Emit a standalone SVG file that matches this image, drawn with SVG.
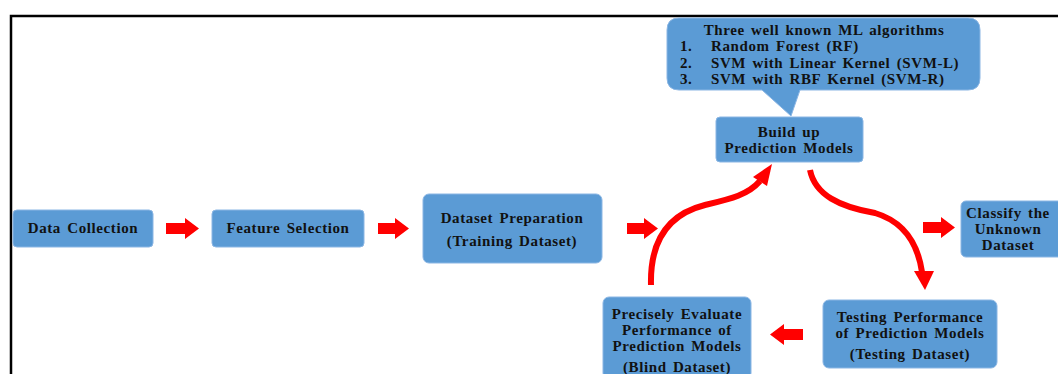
<svg xmlns="http://www.w3.org/2000/svg" width="1058" height="374" viewBox="0 0 1058 374">
<style>
.box{fill:#5b9bd5;stroke:#8bb6e4;stroke-width:1}
.t{font-family:"Liberation Serif","Times New Roman",serif;font-weight:bold;font-size:15px;fill:#111;text-anchor:middle;word-spacing:2px;letter-spacing:0.6px}
.tl{font-family:"Liberation Serif","Times New Roman",serif;font-weight:bold;font-size:15px;fill:#111;word-spacing:2px;letter-spacing:0.6px}
.blk{fill:#ff0000}
.crv{fill:none;stroke:#ff0000;stroke-width:6}
</style>
<rect width="1058" height="374" fill="#fff"/>
<path d="M11,374 V16 H1058" fill="none" stroke="#000" stroke-width="2.5"/>

<g id="callout">
<path d="M679,18 H968 Q980,18 980,30 V78 Q980,90 968,90 H800 L791,116 L762,90 H679 Q667,90 667,78 V30 Q667,18 679,18 Z" class="box"/>
<text class="t" x="824" y="35">Three well known ML algorithms</text>
<text class="tl" x="680" y="51">1.</text><text class="tl" x="711" y="51">Random Forest (RF)</text>
<text class="tl" x="680" y="68">2.</text><text class="tl" x="711" y="68">SVM with Linear Kernel (SVM-L)</text>
<text class="tl" x="680" y="84">3.</text><text class="tl" x="711" y="84">SVM with RBF Kernel (SVM-R)</text>
</g>

<g id="data-collection">
<rect class="box" x="13" y="210" width="140" height="37" rx="4"/>
<text class="t" x="83" y="233">Data Collection</text>
</g>
<g id="feature-selection">
<rect class="box" x="212" y="210" width="152" height="37" rx="4"/>
<text class="t" x="288" y="233">Feature Selection</text>
</g>
<g id="dataset-preparation">
<rect class="box" x="423" y="194" width="179" height="69" rx="6"/>
<text class="t" x="512" y="223">Dataset Preparation</text>
<text class="t" x="512" y="246">(Training Dataset)</text>
</g>
<g id="build-models">
<rect class="box" x="716" y="117" width="147" height="45" rx="4"/>
<text class="t" x="789" y="137">Build up</text>
<text class="t" x="789" y="153">Prediction Models</text>
</g>
<g id="classify">
<rect class="box" x="961" y="201" width="102" height="56" rx="5"/>
<text class="t" x="1008" y="218">Classify the</text>
<text class="t" x="1008" y="234">Unknown</text>
<text class="t" x="1008" y="250">Dataset</text>
</g>
<g id="testing">
<rect class="box" x="823" y="300" width="174" height="68" rx="6"/>
<text class="t" x="910" y="322">Testing Performance</text>
<text class="t" x="910" y="338">of Prediction Models</text>
<text class="t" x="910" y="359">(Testing Dataset)</text>
</g>
<g id="evaluate">
<rect class="box" x="603" y="297" width="148" height="82" rx="6"/>
<text class="t" x="677" y="319">Precisely Evaluate</text>
<text class="t" x="677" y="335">Performance of</text>
<text class="t" x="677" y="351">Prediction Models</text>
<text class="t" x="677" y="372">(Blind Dataset)</text>
</g>

<g id="connectors">
<polygon class="blk" points="166,223 185,223 185,218 199,228.5 185,239 185,234 166,234"/>
<polygon class="blk" points="378,223 395,223 395,218 409,228.5 395,239 395,234 378,234"/>
<polygon class="blk" points="627,223 644,223 644,218 658,228.5 644,239 644,234 627,234"/>
<polygon class="blk" points="923,222 941,222 941,217 955,227.5 941,238 941,233 923,233"/>
<polygon class="blk" points="803,329 784,329 784,324 770,334.5 784,345 784,340 803,340"/>
<path class="crv" d="M651,285 C650,245 665,215 705,205 C730,199 748,195 760,181"/>
<polygon class="blk" points="753,177 772,164 767,186"/>
<path class="crv" d="M810,170 C815,195 840,207 875,213 C905,222 918,245 922,272"/>
<polygon class="blk" points="914,271 934,271 925,290"/>
</g>
</svg>
